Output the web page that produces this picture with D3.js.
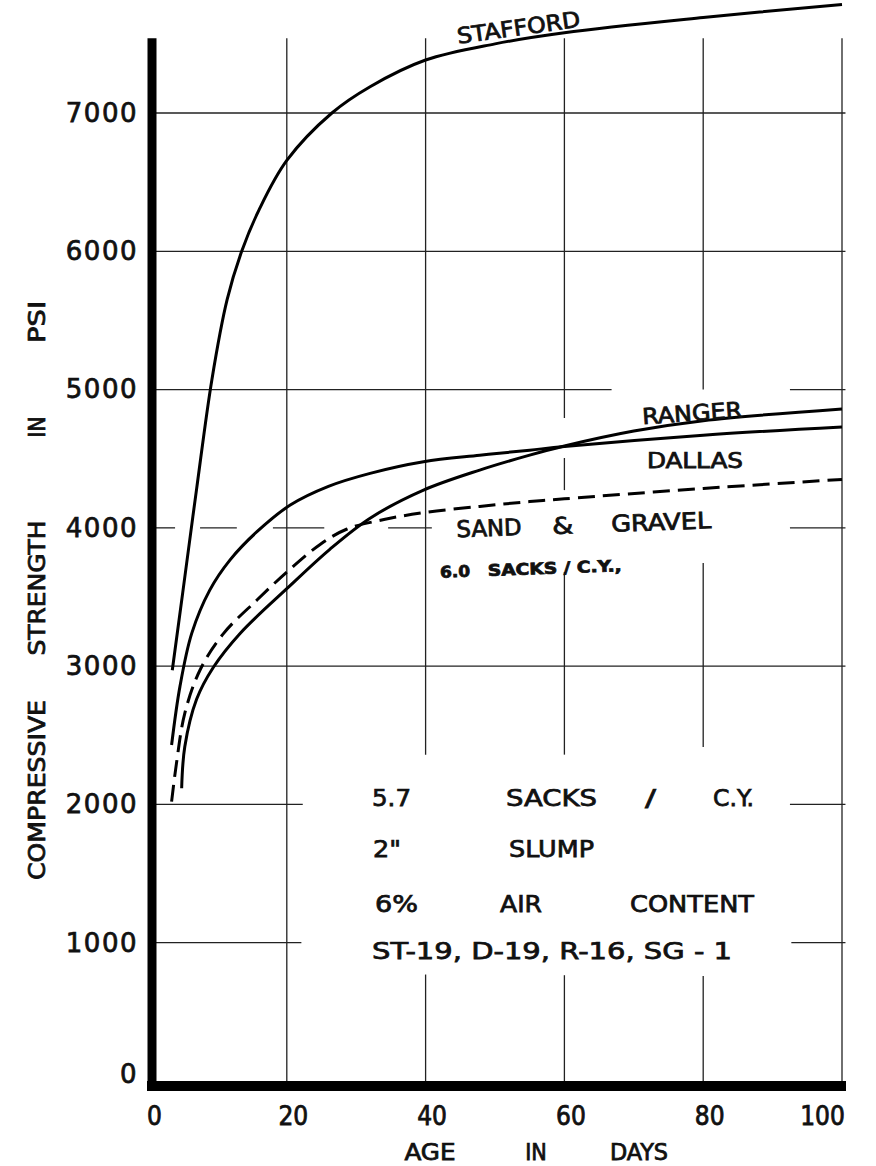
<!DOCTYPE html>
<html>
<head>
<meta charset="utf-8">
<script src="https://cdn.jsdelivr.net/npm/d3@7"></script>
<style>
  body { margin: 0; background: #fff; }
  text { fill: #111; stroke: #111; stroke-width: 0.75px; }
</style>
</head>
<body>
<div class="canvas"></div>
<script>
// data (age in days, compressive strength in psi)
const staffordDays = [3.5, 5, 7, 9.2, 11.4, 13.5, 16, 20, 26.5, 32, 40, 50, 60, 80, 100];
const staffordPsi = [2970, 3530, 4280, 5070, 5650, 6000, 6300, 6657, 7000, 7190, 7383, 7500, 7580, 7690, 7785];

const dallasDays = [3.4, 4.6, 6.3, 8.9, 11.8, 15.7, 20.5, 26, 32, 39.7, 47.8, 55, 60, 80, 100];
const dallasPsi = [2430, 2852, 3237, 3550, 3767, 3972, 4165, 4300, 4394, 4478, 4525, 4562, 4588, 4670, 4730];

const rangerDays = [4.85, 5.3, 7, 9.4, 13.3, 20, 26.2, 32, 39.7, 47.8, 55, 60, 70, 80, 100];
const rangerPsi = [2117, 2417, 2760, 2990, 3238, 3560, 3845, 4070, 4273, 4418, 4526, 4592, 4700, 4775, 4860];

const gravelDays = [3.4, 4.1, 5.3, 7.5, 10.9, 15.7, 20, 24.8, 28.6, 34, 39.7, 47.8, 55, 60, 80, 100];
const gravelPsi = [2020, 2297, 2659, 2972, 3237, 3478, 3680, 3880, 3990, 4060, 4110, 4155, 4190, 4210, 4285, 4350];

const xTicks = [0, 20, 40, 60, 80, 100];
const yTicks = [0, 1000, 2000, 3000, 4000, 5000, 6000, 7000];

const svg = d3
  .select(".canvas")
  .append("svg")
  .attr("width", 876)
  .attr("height", 1166);

svg.append("rect").attr("width", 876).attr("height", 1166).attr("fill", "#fff");

const x = d3.scaleLinear().domain([0, 100]).range([148, 842]);
const y = d3.scaleLinear().domain([0, 7000]).range([1081, 113]);

const TOP = 7540; // top end of the drawn grid, psi

// hand drafted grid: lines are broken where labels and curves sit
const hGrid = [
  [7000, [[0, 100.5]]],
  [6000, [[0, 100.5]]],
  [5000, [[0, 66.8], [92.5, 100.5]]],
  [4000, [[0, 3.9], [7.5, 12.8], [18, 25.4], [34.6, 40.9], [92.5, 100.5]]],
  [3000, [[0, 100.5]]],
  [2000, [[0, 22.3], [92.5, 100.5]]],
  [1000, [[0, 22.1], [92.7, 100.5]]]
];
const vGrid = [
  [20, [[0, TOP]]],
  [40, [[0, 770], [2360, TOP]]],
  [60, [[0, 765], [2360, 3680], [4273, 4505], [4794, TOP]]],
  [80, [[0, 760], [2415, 3745], [5000, TOP]]],
  [100, [[0, TOP]]]
];

const grid = svg.append("g").attr("stroke", "#222").attr("stroke-width", 1.3);
hGrid.forEach(([v, segs]) => {
  segs.forEach(([a, b]) => {
    grid.append("line")
      .attr("x1", x(a)).attr("x2", x(b))
      .attr("y1", y(v)).attr("y2", y(v));
  });
});
vGrid.forEach(([v, segs]) => {
  segs.forEach(([a, b]) => {
    grid.append("line")
      .attr("x1", x(v)).attr("x2", x(v))
      .attr("y1", y(a)).attr("y2", y(b));
  });
});

// heavy axis bars
svg.append("line")
  .attr("x1", x(0) + 4).attr("x2", x(0) + 4)
  .attr("y1", y(TOP)).attr("y2", y(0) + 10)
  .attr("stroke", "#000").attr("stroke-width", 9);
svg.append("line")
  .attr("x1", x(0) - 1).attr("x2", x(100) + 4)
  .attr("y1", y(0) + 5).attr("y2", y(0) + 5)
  .attr("stroke", "#000").attr("stroke-width", 10);

// axes (labels only, the bars above carry the lines)
const yAxis = d3.axisLeft(y).tickValues(yTicks).tickFormat(d3.format("d")).tickSize(0).tickPadding(10);
const yAxisGroup = svg.append("g").attr("transform", `translate(${x(0)},0)`).call(yAxis);
yAxisGroup.select(".domain").remove();
yAxisGroup.selectAll("text")
  .attr("font-family", "DejaVu Sans")
  .attr("font-size", 26)
  .attr("letter-spacing", 1.5)
  .attr("fill", "#111");
yAxisGroup.selectAll("text").filter((d) => d === 0).attr("dy", "0.05em");

const xAxis = d3.axisBottom(x).tickValues(xTicks).tickSize(0).tickPadding(26);
const xAxisGroup = svg.append("g").attr("transform", `translate(0,${y(0)})`).call(xAxis);
xAxisGroup.select(".domain").remove();
xAxisGroup.selectAll("text")
  .attr("font-family", "DejaVu Sans Condensed, DejaVu Sans")
  .attr("font-size", 26)
  .attr("dx", 6)
  .attr("fill", "#111");
xAxisGroup.selectAll("text").filter((d) => d === 100).attr("dx", -20);

// curves
const line = d3.line()
  .x((d) => x(d[0]))
  .y((d) => y(d[1]))
  .curve(d3.curveCatmullRom.alpha(0.5));

const series = [
  { days: staffordDays, psi: staffordPsi, dash: null },
  { days: dallasDays, psi: dallasPsi, dash: null },
  { days: rangerDays, psi: rangerPsi, dash: null },
  { days: gravelDays, psi: gravelPsi, dash: "17,8" }
];

svg.append("g")
  .selectAll("path")
  .data(series)
  .enter()
  .append("path")
  .attr("d", (s) => line(d3.zip(s.days, s.psi)))
  .attr("fill", "none")
  .attr("stroke", "#000")
  .attr("stroke-width", 3)
  .attr("stroke-dasharray", (s) => s.dash);

// curve labels
const font = "DejaVu Sans Condensed, DejaVu Sans";
function label(txt, px, py, opts = {}) {
  const t = svg.append("text")
    .attr("x", px).attr("y", py)
    .attr("font-family", opts.family || font)
    .attr("font-size", opts.size || 21)
    .text(txt);
  if (opts.len) t.attr("textLength", opts.len).attr("lengthAdjust", "spacingAndGlyphs");
  if (opts.rot) t.attr("transform", `rotate(${opts.rot},${px},${py})`);
  return t;
}

label("STAFFORD", x(44.7), y(7500), { len: 124, rot: -8, size: 22 });
label("RANGER", x(71.3), y(4749), { len: 100, rot: -4, size: 22 });
label("DALLAS", x(71.9), y(4431), { len: 96, size: 22 });

const sg = svg.append("g").attr("transform", `rotate(-2,${x(44.5)},${y(3932)})`);
[["SAND", 44.5, 65], ["&", 58.3, 21], ["GRAVEL", 66.8, 100]].forEach(([w, d, len]) => {
  sg.append("text")
    .attr("x", x(d)).attr("y", y(3932))
    .attr("font-family", font).attr("font-size", 23)
    .attr("textLength", len).attr("lengthAdjust", "spacingAndGlyphs")
    .text(w);
});
const sk = svg.append("g").attr("transform", `rotate(-2,${x(42.1)},${y(3640)})`);
[["6.0", 42.1, 30], ["SACKS / C.Y.,", 49, 134]].forEach(([w, d, len]) => {
  sk.append("text")
    .attr("x", x(d)).attr("y", y(3640))
    .attr("font-family", font).attr("font-size", 16).attr("font-weight", "bold")
    .attr("stroke-width", 0.3)
    .attr("textLength", len).attr("lengthAdjust", "spacingAndGlyphs")
    .text(w);
});

// mix note
const note = [
  [806, [["5.7", 372, 39], ["SACKS", 506, 91], ["/", 645, 11], ["C.Y.", 713, 41]]],
  [857, [["2\"", 373, 28], ["SLUMP", 509, 85]]],
  [912, [["6%", 375, 43], ["AIR", 500, 42], ["CONTENT", 630, 124]]],
  [959, [["ST-19, D-19, R-16, SG - 1", 372, 360]]]
];
note.forEach(([py, words]) => {
  words.forEach(([w, px, len]) => {
    svg.append("text")
      .attr("x", px).attr("y", py)
      .attr("font-family", "DejaVu Sans").attr("font-size", 23)
      .attr("textLength", len).attr("lengthAdjust", "spacingAndGlyphs")
      .text(w);
  });
});

// axis titles
const yTitle = svg.append("g").attr("transform", "translate(45,0) rotate(-90)");
[["COMPRESSIVE", 790, 180], ["STRENGTH", 588, 135], ["IN", 427, null], ["PSI", 322, 42]].forEach(([w, py, len]) => {
  const t = yTitle.append("text")
    .attr("x", -py).attr("y", 0)
    .attr("text-anchor", "middle")
    .attr("font-family", font).attr("font-size", 23)
    .text(w);
  if (len) t.attr("textLength", len).attr("lengthAdjust", "spacingAndGlyphs");
});
[["AGE", 430, 51], ["IN", 536, null], ["DAYS", 639, 58]].forEach(([w, px, len]) => {
  const t = svg.append("text")
    .attr("x", px).attr("y", 1160)
    .attr("text-anchor", "middle")
    .attr("font-family", font).attr("font-size", 23)
    .text(w);
  if (len) t.attr("textLength", len).attr("lengthAdjust", "spacingAndGlyphs");
});
</script>
</body>
</html>
